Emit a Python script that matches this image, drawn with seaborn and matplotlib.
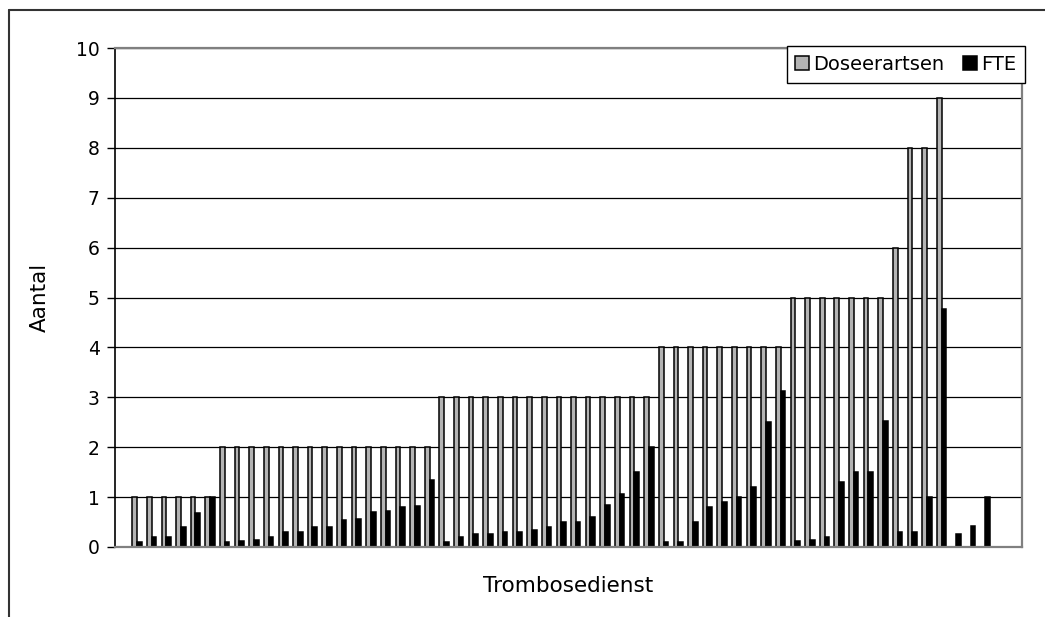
import numpy as np
import pandas as pd
import matplotlib.pyplot as plt
from matplotlib.lines import Line2D
import seaborn as sns

# Doseerartsen per trombosedienst (last three have no value)
doseerartsen = [1, 1, 1, 1, 1, 1,
                2, 2, 2, 2, 2, 2, 2, 2, 2, 2, 2, 2, 2, 2, 2,
                3, 3, 3, 3, 3, 3, 3, 3, 3, 3, 3, 3, 3, 3, 3,
                4, 4, 4, 4, 4, 4, 4, 4, 4,
                5, 5, 5, 5, 5, 5, 5,
                6, 8, 8, 9,
                np.nan, np.nan, np.nan]

fte = [0.1, 0.2, 0.2, 0.4, 0.68, 1.0,
       0.1, 0.13, 0.15, 0.2, 0.3, 0.3, 0.4, 0.4, 0.55, 0.57, 0.71, 0.73, 0.81, 0.83, 1.34,
       0.1, 0.2, 0.26, 0.26, 0.3, 0.31, 0.35, 0.4, 0.5, 0.5, 0.6, 0.84, 1.07, 1.5, 2.0,
       0.1, 0.1, 0.5, 0.8, 0.9, 1.0, 1.2, 2.5, 3.12,
       0.12, 0.15, 0.2, 1.3, 1.5, 1.5, 2.52,
       0.3, 0.3, 1.0, 4.77,
       0.26, 0.42, 1.0]

dienst = [str(i + 1) for i in range(len(fte))]

df = pd.DataFrame({'Trombosedienst': dienst * 2,
                   'Aantal': doseerartsen + fte,
                   'Reeks': ['Doseerartsen'] * len(dienst) + ['FTE'] * len(dienst)})

sns.set_style("white")
plt.rcParams['font.family'] = ['DejaVu Sans']
plt.rcParams['text.color'] = 'black'
plt.rcParams['axes.labelcolor'] = 'black'

fig = plt.figure(figsize=(10.45, 6.17), dpi=100)
ax = fig.add_axes([115 / 1045, 1 - 547 / 617, 907 / 1045, 499 / 617])

sns.barplot(data=df, x='Trombosedienst', y='Aantal', hue='Reeks', order=dienst,
            palette={'Doseerartsen': '#b4b4b4', 'FTE': 'black'},
            edgecolor='black', linewidth=1.1, width=0.64, gap=0, errorbar=None, ax=ax)

ax.set_xlim(-1.5, len(dienst) + 1.5)
ax.set_ylim(0, 10)
ax.set_yticks(range(0, 11))
ax.set_xticks([])
ax.tick_params(axis='y', labelsize=13.5, length=6, width=1, direction='out', left=True,
               colors='black', pad=5)
ax.yaxis.grid(True, color='black', linewidth=0.9)
ax.set_axisbelow(True)

ax.set_xlabel('Trombosedienst', fontsize=15.5, labelpad=21)
ax.set_ylabel('Aantal', fontsize=15.5, labelpad=19)

for side in ['top', 'right', 'bottom']:
    ax.spines[side].set_color('#808080')
    ax.spines[side].set_linewidth(1.6)
ax.spines['left'].set_color('black')
ax.spines['left'].set_linewidth(1.2)

handles, labels = ax.get_legend_handles_labels()
ax.legend(handles, labels, loc='upper right', bbox_to_anchor=(1.003, 1.004), ncol=2,
          fontsize=14, frameon=True, fancybox=False, edgecolor='black', framealpha=1,
          borderaxespad=0, handlelength=0.7, handleheight=0.7, handletextpad=0.2,
          columnspacing=1.0, borderpad=0.45)
ax.get_legend().get_frame().set_linewidth(1)

# chart area border (only left and top visible in the crop)
fig.add_artist(Line2D([9 / 1045, 9 / 1045], [0, 1 - 10 / 617], color='#333333', lw=1.5))
fig.add_artist(Line2D([9 / 1045, 1], [1 - 10 / 617, 1 - 10 / 617], color='#333333', lw=1.5))

fig.savefig('out.png', dpi=100)
